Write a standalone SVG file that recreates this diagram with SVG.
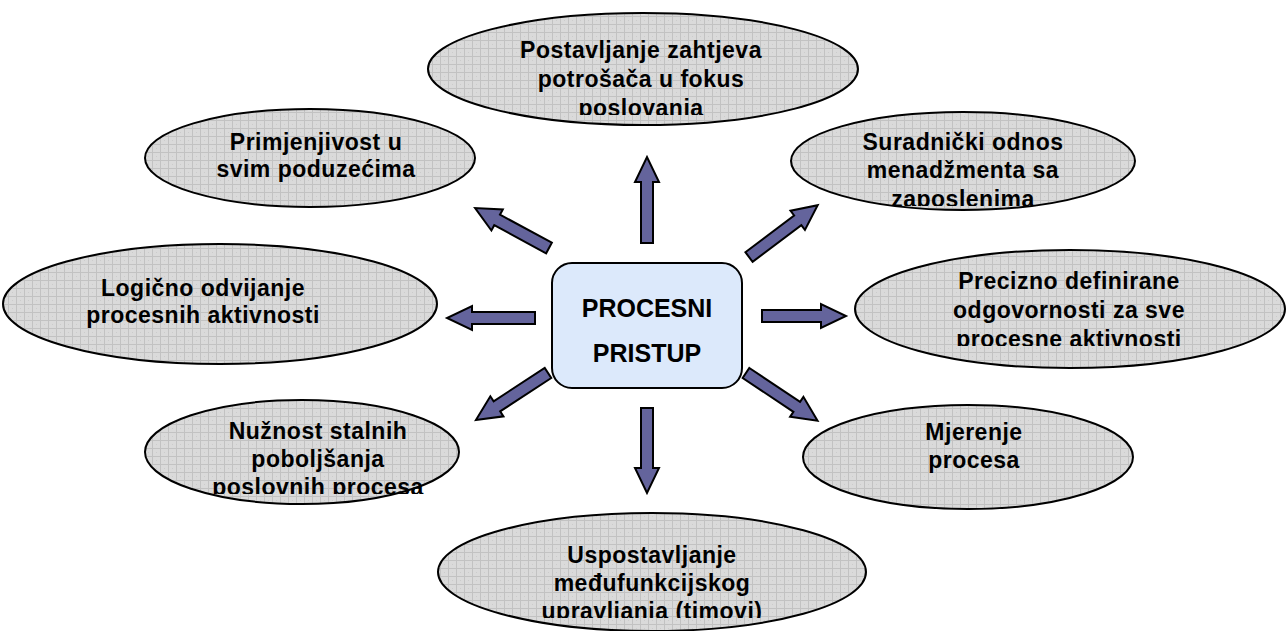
<svg xmlns="http://www.w3.org/2000/svg" width="1286" height="631" viewBox="0 0 1286 631">
<defs>
<pattern id="grid" width="8" height="8" patternUnits="userSpaceOnUse">
<rect width="8" height="8" fill="#dadada"/>
<path d="M0,0.5 H8 M0.5,0 V8" stroke="#c2c2c2" stroke-width="1"/>
<rect x="4" y="4" width="1" height="1" fill="#cccccc"/>
</pattern>
<clipPath id="c-top" clipPathUnits="userSpaceOnUse"><rect x="400" y="0" width="480" height="115"/></clipPath>
<clipPath id="c-ur" clipPathUnits="userSpaceOnUse"><rect x="780" y="100" width="370" height="106"/></clipPath>
<clipPath id="c-r" clipPathUnits="userSpaceOnUse"><rect x="850" y="240" width="436" height="106"/></clipPath>
<clipPath id="c-ll" clipPathUnits="userSpaceOnUse"><rect x="140" y="395" width="330" height="99"/></clipPath>
<clipPath id="c-b" clipPathUnits="userSpaceOnUse"><rect x="430" y="505" width="450" height="113"/></clipPath>
</defs>
<style>
.node ellipse{fill:url(#grid);stroke:#000;stroke-width:2}
.node text{font-family:"Liberation Sans",Arial,sans-serif;font-weight:bold;font-size:23px;letter-spacing:0.5px;text-anchor:middle;fill:#000}
.center rect{fill:#dce9fb;stroke:#000;stroke-width:2}
.center text{font-family:"Liberation Sans",Arial,sans-serif;font-weight:bold;font-size:25px;text-anchor:middle;fill:#000}
.arrow{fill:#64649c;stroke:#000;stroke-width:2;stroke-linejoin:miter}
</style>
<g id="connectors">
<path class="arrow" transform="translate(647,243) rotate(-90)" d="M0,-6 H61 V-12 L86,0 L61,12 V6 H0 Z"/>
<path class="arrow" transform="translate(647,408) rotate(90)" d="M0,-6 H60 V-12 L85,0 L60,12 V6 H0 Z"/>
<path class="arrow" transform="translate(535,318) rotate(180)" d="M0,-6 H63 V-12 L88,0 L63,12 V6 H0 Z"/>
<path class="arrow" transform="translate(762,316)" d="M0,-6 H59 V-12 L84,0 L59,12 V6 H0 Z"/>
<path class="arrow" transform="translate(749,257) rotate(-37)" d="M0,-6 H61 V-12 L86,0 L61,12 V6 H0 Z"/>
<path class="arrow" transform="translate(549,248) rotate(-151.6)" d="M0,-6 H59 V-12 L84,0 L59,12 V6 H0 Z"/>
<path class="arrow" transform="translate(548,373) rotate(146.9)" d="M0,-6 H61 V-12 L86,0 L61,12 V6 H0 Z"/>
<path class="arrow" transform="translate(746,373) rotate(33.7)" d="M0,-6 H61 V-12 L86,0 L61,12 V6 H0 Z"/>
</g>
<g id="node-top" class="node">
<ellipse cx="643" cy="69" rx="215" ry="56"/>
<g clip-path="url(#c-top)">
<text x="641" y="58">Postavljanje zahtjeva</text>
<text x="641" y="87">potrošača u fokus</text>
<text x="641" y="116">poslovanja</text>
</g>
</g>
<g id="node-upper-left" class="node">
<ellipse cx="310" cy="158" rx="165" ry="49"/>
<text x="316" y="150">Primjenjivost u</text>
<text x="316" y="177">svim poduzećima</text>
</g>
<g id="node-upper-right" class="node">
<ellipse cx="963" cy="161" rx="172" ry="49"/>
<g clip-path="url(#c-ur)">
<text x="963" y="150">Suradnički odnos</text>
<text x="963" y="178">menadžmenta sa</text>
<text x="963" y="207">zaposlenima</text>
</g>
</g>
<g id="node-left" class="node">
<ellipse cx="220" cy="304" rx="217" ry="60"/>
<text x="203" y="296">Logično odvijanje</text>
<text x="203" y="323">procesnih aktivnosti</text>
</g>
<g id="node-right" class="node">
<ellipse cx="1070" cy="309" rx="215" ry="59"/>
<g clip-path="url(#c-r)">
<text x="1069" y="289">Precizno definirane</text>
<text x="1069" y="318">odgovornosti za sve</text>
<text x="1069" y="347">procesne aktivnosti</text>
</g>
</g>
<g id="node-lower-left" class="node">
<ellipse cx="302" cy="452" rx="157" ry="52"/>
<g clip-path="url(#c-ll)">
<text x="318" y="439">Nužnost stalnih</text>
<text x="318" y="467">poboljšanja</text>
<text x="318" y="495">poslovnih procesa</text>
</g>
</g>
<g id="node-lower-right" class="node">
<ellipse cx="968" cy="457" rx="165" ry="52"/>
<text x="974" y="440">Mjerenje</text>
<text x="974" y="468">procesa</text>
</g>
<g id="node-bottom" class="node">
<ellipse cx="652" cy="572" rx="214" ry="59"/>
<g clip-path="url(#c-b)">
<text x="652" y="563">Uspostavljanje</text>
<text x="652" y="591">međufunkcijskog</text>
<text x="652" y="619">upravljanja (timovi)</text>
</g>
</g>
<g id="node-center" class="center">
<rect x="552" y="263" width="190" height="125" rx="20" ry="20"/>
<text x="647" y="317">PROCESNI</text>
<text x="647" y="362">PRISTUP</text>
</g>
</svg>
